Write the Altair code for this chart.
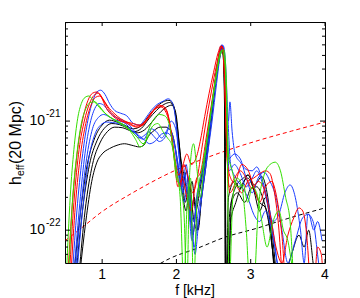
import altair as alt
import pandas as pd

# ---------------- data (strain in units of 1e-21) ----------------
bk1_f = [0.62,0.70,0.80,0.90,1.00,1.10,1.20,1.30,1.42,1.52,1.62,1.72,1.82,1.90,1.96,2.01,2.06,2.11,2.16,2.21,2.26,2.31,2.37,2.44,2.50,2.56,2.61,2.64,2.655,2.67,
         2.70,2.78,2.86,2.96,3.05,3.15,3.22,3.30,3.36]
bk1_h = [0.04,0.13,0.40,0.70,0.92,1.02,0.98,0.92,0.85,0.90,1.10,1.32,1.50,1.55,1.40,0.90,0.45,0.30,0.20,0.28,0.15,0.22,0.40,0.90,1.80,3.50,4.80,3.00,0.40,0.03,
         0.20,0.28,0.24,0.32,0.26,0.31,0.22,0.08,0.03]

bk2_f = [0.65,0.73,0.83,0.93,1.03,1.13,1.23,1.33,1.43,1.53,1.63,1.73,1.83,1.91,1.97,2.02,2.07,2.12,2.17,2.22,2.27,2.33,2.40,2.47,2.53,2.58,2.62,2.645,2.66,
         2.72,2.80,2.90,2.97,3.05,3.12,3.20,3.27,3.33]
bk2_h = [0.04,0.14,0.40,0.66,0.86,0.95,0.93,0.87,0.80,0.86,1.05,1.25,1.42,1.48,1.30,0.70,0.35,0.18,0.25,0.09,0.18,0.30,0.55,1.20,2.50,4.00,4.70,2.00,0.03,
         0.15,0.25,0.30,0.32,0.22,0.15,0.20,0.10,0.03]

bk3_f = [0.69,0.77,0.87,0.97,1.07,1.17,1.27,1.37,1.47,1.57,1.67,1.77,1.87,1.94,1.99,2.04,2.09,2.14,2.19,2.24,2.29,2.35,2.42,2.49,2.55,2.60,2.63,2.655,2.67,
         2.70,2.74,2.82,2.92,3.00,3.08,3.16,3.24,3.32,3.40,3.55,3.65,3.72,3.78,3.84,3.88]
bk3_h = [0.04,0.15,0.40,0.63,0.80,0.88,0.87,0.82,0.78,0.83,0.98,1.18,1.35,1.40,1.20,0.60,0.28,0.35,0.12,0.20,0.10,0.25,0.60,1.50,3.20,4.60,4.20,1.00,0.03,
         0.03,0.18,0.22,0.18,0.24,0.25,0.20,0.12,0.05,0.03,0.06,0.09,0.07,0.10,0.05,0.03]

bk4_f = [0.70,0.78,0.86,0.93,1.00,1.10,1.20,1.30,1.40,1.50,1.56,1.62,1.70,1.78,1.86,1.93,1.98,2.03,2.08,2.13,2.18,2.23,2.28,2.34,2.40,2.47,2.54,2.59,2.62,2.65,2.66,
         2.69,2.73,2.80,2.88,2.96,3.04,3.12,3.20,3.28,3.34]
bk4_h = [0.04,0.12,0.28,0.42,0.50,0.56,0.60,0.62,0.60,0.58,0.60,0.72,0.82,0.88,0.88,0.80,0.60,0.35,0.22,0.15,0.25,0.13,0.10,0.20,0.40,1.00,2.50,4.00,4.60,2.50,0.03,
         0.03,0.12,0.18,0.26,0.30,0.24,0.18,0.16,0.08,0.03]

bl1_f = [0.60,0.66,0.73,0.80,0.87,0.93,0.98,1.04,1.10,1.17,1.25,1.33,1.42,1.50,1.58,1.66,1.74,1.82,1.89,1.95,2.00,2.04,2.08,2.13,2.18,2.23,2.28,2.34,2.40,2.46,2.52,2.57,2.61,2.64,2.67,2.70,2.72,2.75,2.79,
         2.86,2.94,3.02,3.08,3.15,3.22,3.30,3.38,3.46,3.53,3.60,3.67,3.72,3.77,3.84,3.90,3.95]
bl1_h = [0.04,0.15,0.45,0.95,1.50,1.85,1.92,1.75,1.45,1.25,1.18,1.12,0.95,0.92,1.05,1.25,1.42,1.52,1.60,1.45,0.90,0.45,0.25,0.40,0.20,0.12,0.22,0.30,0.60,1.20,2.20,3.80,5.00,4.00,1.50,1.00,1.50,0.80,0.50,
         0.42,0.36,0.35,0.38,0.30,0.20,0.12,0.14,0.22,0.26,0.20,0.10,0.05,0.14,0.12,0.06,0.03]

bl2_f = [0.62,0.69,0.76,0.83,0.90,0.96,1.02,1.08,1.15,1.23,1.32,1.41,1.49,1.56,1.63,1.70,1.77,1.84,1.90,1.96,2.01,2.06,2.11,2.16,2.21,2.26,2.32,2.38,2.45,2.51,2.56,2.60,2.63,2.66,2.70,
         2.78,2.86,2.94,3.02,3.10,3.18,3.26,3.34,3.42,3.50,3.60,3.70,3.78,3.85,3.90,3.96]
bl2_h = [0.04,0.15,0.45,0.90,1.30,1.45,1.40,1.25,1.12,1.05,0.98,0.85,0.72,0.68,0.80,0.72,0.65,0.70,0.85,0.70,0.40,0.25,0.32,0.18,0.08,0.15,0.30,0.45,1.00,2.00,3.60,4.90,4.60,1.80,0.45,
         0.50,0.45,0.30,0.22,0.30,0.34,0.28,0.20,0.10,0.05,0.08,0.13,0.14,0.10,0.12,0.08]

bl3_f = [0.64,0.71,0.79,0.87,0.95,1.02,1.09,1.16,1.24,1.33,1.42,1.50,1.58,1.66,1.73,1.80,1.87,1.93,1.99,2.04,2.09,2.14,2.19,2.24,2.29,2.35,2.41,2.47,2.53,2.58,2.62,2.65,2.68,2.71,
         2.78,2.86,2.94,3.02,3.08,3.15,3.22,3.30,3.38,3.48]
bl3_h = [0.04,0.15,0.45,0.85,1.08,1.15,1.10,1.03,1.00,0.93,0.78,0.70,0.75,0.85,0.80,0.70,0.82,1.00,0.85,0.45,0.22,0.35,0.12,0.07,0.14,0.25,0.50,1.10,2.40,4.20,5.00,3.00,0.90,0.35,
         0.40,0.33,0.25,0.30,0.35,0.28,0.18,0.10,0.04,0.03]

bl4_f = [0.66,0.74,0.82,0.90,0.98,1.06,1.14,1.22,1.31,1.40,1.48,1.56,1.64,1.72,1.80,1.87,1.94,2.00,2.05,2.10,2.15,2.20,2.25,2.30,2.36,2.42,2.48,2.54,2.59,2.63,2.66,2.69,2.73,
         2.80,2.88,2.96,3.04,3.12,3.20,3.28,3.36,3.45]
bl4_h = [0.04,0.16,0.45,0.75,0.92,0.98,0.97,0.95,0.90,0.82,0.75,0.68,0.62,0.66,0.76,0.78,0.70,0.50,0.30,0.18,0.25,0.14,0.06,0.12,0.25,0.50,1.00,2.20,4.00,4.90,3.50,1.20,0.40,
         0.30,0.25,0.20,0.14,0.12,0.15,0.10,0.05,0.03]

rd1_f = [0.54,0.60,0.67,0.74,0.81,0.87,0.93,0.99,1.06,1.14,1.22,1.32,1.42,1.50,1.58,1.66,1.74,1.81,1.87,1.93,1.98,2.03,2.08,2.14,2.20,2.26,2.32,2.38,2.44,2.50,2.56,2.60,2.63,2.66,2.69,2.73,
         2.80,2.88,2.96,3.04,3.12,3.20,3.26,3.32,3.38,3.43]
rd1_h = [0.04,0.18,0.55,1.05,1.55,1.80,1.85,1.65,1.30,1.12,1.02,0.98,0.95,0.92,1.00,1.20,1.33,1.38,1.25,0.80,0.45,0.32,0.38,0.50,0.40,0.45,0.65,1.10,1.80,2.80,4.20,4.90,4.50,1.50,0.40,0.30,
         0.26,0.22,0.28,0.30,0.33,0.35,0.33,0.22,0.10,0.03]

rd2_f = [0.56,0.62,0.69,0.76,0.83,0.89,0.95,1.01,1.08,1.16,1.25,1.35,1.45,1.53,1.61,1.69,1.76,1.83,1.89,1.95,2.00,2.05,2.10,2.16,2.22,2.28,2.34,2.40,2.46,2.52,2.57,2.61,2.64,2.67,2.71,
         2.78,2.86,2.94,3.02,3.10,3.18,3.26,3.34,3.42,3.50,3.58,3.65,3.70,3.76,3.80]
rd2_h = [0.04,0.18,0.55,1.00,1.45,1.72,1.80,1.60,1.35,1.18,1.05,0.97,0.90,0.92,1.05,1.25,1.40,1.35,1.10,0.60,0.35,0.25,0.40,0.30,0.22,0.30,0.55,1.00,1.70,2.80,4.00,4.90,3.50,0.80,0.25,
         0.30,0.35,0.30,0.24,0.28,0.24,0.14,0.07,0.05,0.09,0.13,0.16,0.15,0.08,0.03]

rd3_f = [0.58,0.64,0.71,0.78,0.85,0.91,0.97,1.03,1.10,1.18,1.27,1.37,1.47,1.55,1.63,1.71,1.79,1.86,1.92,1.97,2.02,2.08,2.14,2.20,2.26,2.33,2.40,2.47,2.53,2.58,2.62,2.65,2.68,2.72,
         2.80,2.88,2.96,3.04,3.12,3.20,3.28,3.35,3.42,3.48,3.85,3.90,3.95,3.98]
rd3_h = [0.04,0.17,0.50,0.95,1.40,1.65,1.70,1.50,1.25,1.10,1.00,0.93,0.88,0.92,1.08,1.28,1.35,1.20,0.85,0.45,0.25,0.30,0.20,0.15,0.28,0.35,0.70,1.40,2.60,4.30,4.80,2.20,0.50,0.22,
         0.28,0.40,0.36,0.25,0.18,0.25,0.28,0.20,0.09,0.03,0.03,0.07,0.06,0.03]

gr1_f = [0.52,0.57,0.62,0.67,0.72,0.77,0.82,0.87,0.93,1.00,1.08,1.17,1.27,1.37,1.45,1.51,1.57,1.63,1.70,1.77,1.84,1.90,1.95,2.00,2.05,2.10,2.14,2.18,2.23,2.27,2.32,2.38,2.45,2.52,2.58,2.62,2.65,2.68,2.71,
         2.76,2.82,2.88,2.94,2.99,3.04,3.10,3.18,3.26,3.33,3.40,3.47,3.53,3.58]
gr1_h = [0.04,0.20,0.55,1.05,1.45,1.65,1.70,1.58,1.42,1.25,1.12,1.02,0.92,0.82,0.68,0.58,0.62,0.85,1.05,1.15,1.12,0.95,0.60,0.30,0.25,0.15,0.03,0.35,0.62,0.40,0.20,0.45,1.00,2.20,3.80,4.40,3.50,1.00,0.03,
         0.20,0.30,0.25,0.10,0.03,0.03,0.15,0.32,0.40,0.42,0.35,0.20,0.12,0.03]

gr2_f = [0.55,0.60,0.66,0.72,0.78,0.84,0.90,0.96,1.03,1.11,1.20,1.30,1.40,1.48,1.55,1.61,1.68,1.75,1.82,1.88,1.94,2.00,2.05,2.10,2.14,2.19,2.23,2.28,2.34,2.40,2.47,2.54,2.60,2.64,2.67,2.70,
         2.75,2.82,2.90,2.96,3.02,3.08,3.15,3.22,3.30,3.38,3.44,3.50,3.55,3.60]
gr2_h = [0.04,0.18,0.50,0.95,1.30,1.48,1.50,1.38,1.20,1.08,1.00,0.92,0.80,0.70,0.62,0.70,0.90,0.95,0.80,0.70,0.60,0.35,0.20,0.03,0.15,0.30,0.03,0.20,0.35,0.60,1.30,2.80,4.40,4.50,2.50,0.50,
         0.35,0.25,0.26,0.18,0.25,0.22,0.12,0.07,0.12,0.15,0.10,0.08,0.05,0.03]

# noise curves (dashed)
noise_red_f = [0.50, 0.74, 0.97, 1.42, 2.01, 2.40, 2.72, 3.12, 3.55, 4.00]
noise_red_h = [0.080, 0.107, 0.143, 0.222, 0.36, 0.46, 0.55, 0.67, 0.81, 0.98]
noise_blk_f = [1.70, 1.91, 2.30, 2.65, 3.08, 3.50, 4.00]
noise_blk_h = [0.046, 0.055, 0.069, 0.086, 0.104, 0.128, 0.160]

# axis ticks / labels
x_ticks = [1, 2, 3, 4]
x_tick_labels = ["1", "2", "3", "4"]
y_major = [0.1, 1.0]
y_major_exp = ["-22", "-21"]
y_minor = [0.06, 0.07, 0.08, 0.09, 0.2, 0.3, 0.4, 0.5, 0.6, 0.7, 0.8, 0.9, 2, 3, 4, 5, 6, 7, 8]
x_title = "f [kHz]"

BLACK, BLUE, RED, GREEN = "#000000", "#1a3cff", "#ff0000", "#33e000"
series = [
    ("a1", BLACK, bk1_f, bk1_h), ("a2", BLACK, bk2_f, bk2_h),
    ("a3", BLACK, bk3_f, bk3_h), ("a4", BLACK, bk4_f, bk4_h),
    ("b1", BLUE, bl1_f, bl1_h), ("b2", BLUE, bl2_f, bl2_h),
    ("b3", BLUE, bl3_f, bl3_h), ("b4", BLUE, bl4_f, bl4_h),
    ("c1", RED, rd1_f, rd1_h), ("c2", RED, rd2_f, rd2_h), ("c3", RED, rd3_f, rd3_h),
    ("d1", GREEN, gr1_f, gr1_h), ("d2", GREEN, gr2_f, gr2_h),
]

rows = []
for key, col, fs, hs in series:
    for f, h in zip(fs, hs):
        rows.append({"key": key, "f": f, "h": h})
curves = pd.DataFrame(rows)
keys = [s[0] for s in series]
cols = [s[1] for s in series]

W, H = 260, 241
FONT = "Liberation Sans"
X = alt.Scale(domain=[0.5, 4.0], nice=False, zero=False)
Y = alt.Scale(type="log", domain=[0.05, 8.1], nice=False)

noise_red = alt.Chart(pd.DataFrame({"f": noise_red_f, "h": noise_red_h})).mark_line(
    clip=True, color=RED, strokeWidth=1, strokeDash=[4, 3], interpolate="monotone"
).encode(x=alt.X("f:Q", scale=X, axis=None), y=alt.Y("h:Q", scale=Y, axis=None))

noise_blk = alt.Chart(pd.DataFrame({"f": noise_blk_f, "h": noise_blk_h})).mark_line(
    clip=True, color=BLACK, strokeWidth=1, strokeDash=[4, 3], interpolate="monotone"
).encode(x=alt.X("f:Q", scale=X, axis=None), y=alt.Y("h:Q", scale=Y, axis=None))

lines = alt.Chart(curves).mark_line(clip=True, strokeWidth=1, interpolate="monotone").encode(
    x=alt.X("f:Q", scale=X, axis=None),
    y=alt.Y("h:Q", scale=Y, axis=None),
    color=alt.Color("key:N", scale=alt.Scale(domain=keys, range=cols), legend=None),
    detail="key:N",
)

xt = pd.DataFrame({"v": x_ticks, "lab": x_tick_labels})
xt_bot = alt.Chart(xt).mark_rule(color="black", strokeWidth=1).encode(
    x=alt.X("v:Q", scale=X, axis=None), y=alt.value(H), y2=alt.value(H - 4))
xt_top = alt.Chart(xt).mark_rule(color="black", strokeWidth=1).encode(
    x=alt.X("v:Q", scale=X, axis=None), y=alt.value(0), y2=alt.value(4))
xlab = alt.Chart(xt).mark_text(align="center", baseline="alphabetic", fontSize=14, font=FONT, color="black").encode(
    x=alt.X("v:Q", scale=X, axis=None), y=alt.value(H + 16), text="lab:N")

ymj = pd.DataFrame({"v": y_major, "base": ["10", "10"], "exp": y_major_exp})
ymn = pd.DataFrame({"v": y_minor})
ymj_l = alt.Chart(ymj).mark_rule(color="black").encode(
    y=alt.Y("v:Q", scale=Y, axis=None), x=alt.value(0), x2=alt.value(5))
ymj_r = alt.Chart(ymj).mark_rule(color="black").encode(
    y=alt.Y("v:Q", scale=Y, axis=None), x=alt.value(W), x2=alt.value(W - 5))
ymn_l = alt.Chart(ymn).mark_rule(color="black").encode(
    y=alt.Y("v:Q", scale=Y, axis=None), x=alt.value(0), x2=alt.value(3))
ymn_r = alt.Chart(ymn).mark_rule(color="black").encode(
    y=alt.Y("v:Q", scale=Y, axis=None), x=alt.value(W), x2=alt.value(W - 3))

ylab_base = alt.Chart(ymj).mark_text(align="right", baseline="middle", fontSize=14, font=FONT, color="black").encode(
    y=alt.Y("v:Q", scale=Y, axis=None), x=alt.value(-20), text="base:N")
ylab_exp = alt.Chart(ymj).mark_text(align="left", baseline="middle", fontSize=10, font=FONT, color="black", dy=-7).encode(
    y=alt.Y("v:Q", scale=Y, axis=None), x=alt.value(-19), text="exp:N")

one = pd.DataFrame({"t": ["h"], "s": ["eff"], "r": ["(20 Mpc)"], "xt": [x_title]})
yt_h = alt.Chart(one).mark_text(align="left", baseline="alphabetic", angle=270, fontSize=16, font=FONT, color="black").encode(
    x=alt.value(-44), y=alt.value(163), text="t:N")
yt_s = alt.Chart(one).mark_text(align="left", baseline="alphabetic", angle=270, fontSize=10.5, font=FONT, color="black").encode(
    x=alt.value(-41), y=alt.value(154), text="s:N")
yt_r = alt.Chart(one).mark_text(align="left", baseline="alphabetic", angle=270, fontSize=16, font=FONT, color="black").encode(
    x=alt.value(-44), y=alt.value(142), text="r:N")
xt_title = alt.Chart(one).mark_text(align="center", baseline="alphabetic", fontSize=14, font=FONT, color="black").encode(
    x=alt.value(W / 2), y=alt.value(H + 32), text="xt:N")

chart = alt.layer(
    noise_red, noise_blk, lines,
    xt_bot, xt_top, ymj_l, ymj_r, ymn_l, ymn_r,
    xlab, ylab_base, ylab_exp, yt_h, yt_s, yt_r, xt_title,
).properties(
    width=W, height=H,
    autosize=alt.AutoSizeParams(type="none"),
    padding={"left": 57, "top": 14, "right": 27, "bottom": 35},
    background="white",
).configure_view(stroke="black", strokeWidth=1)

chart.save("out.html", embed_options={"renderer": "svg", "actions": False})
